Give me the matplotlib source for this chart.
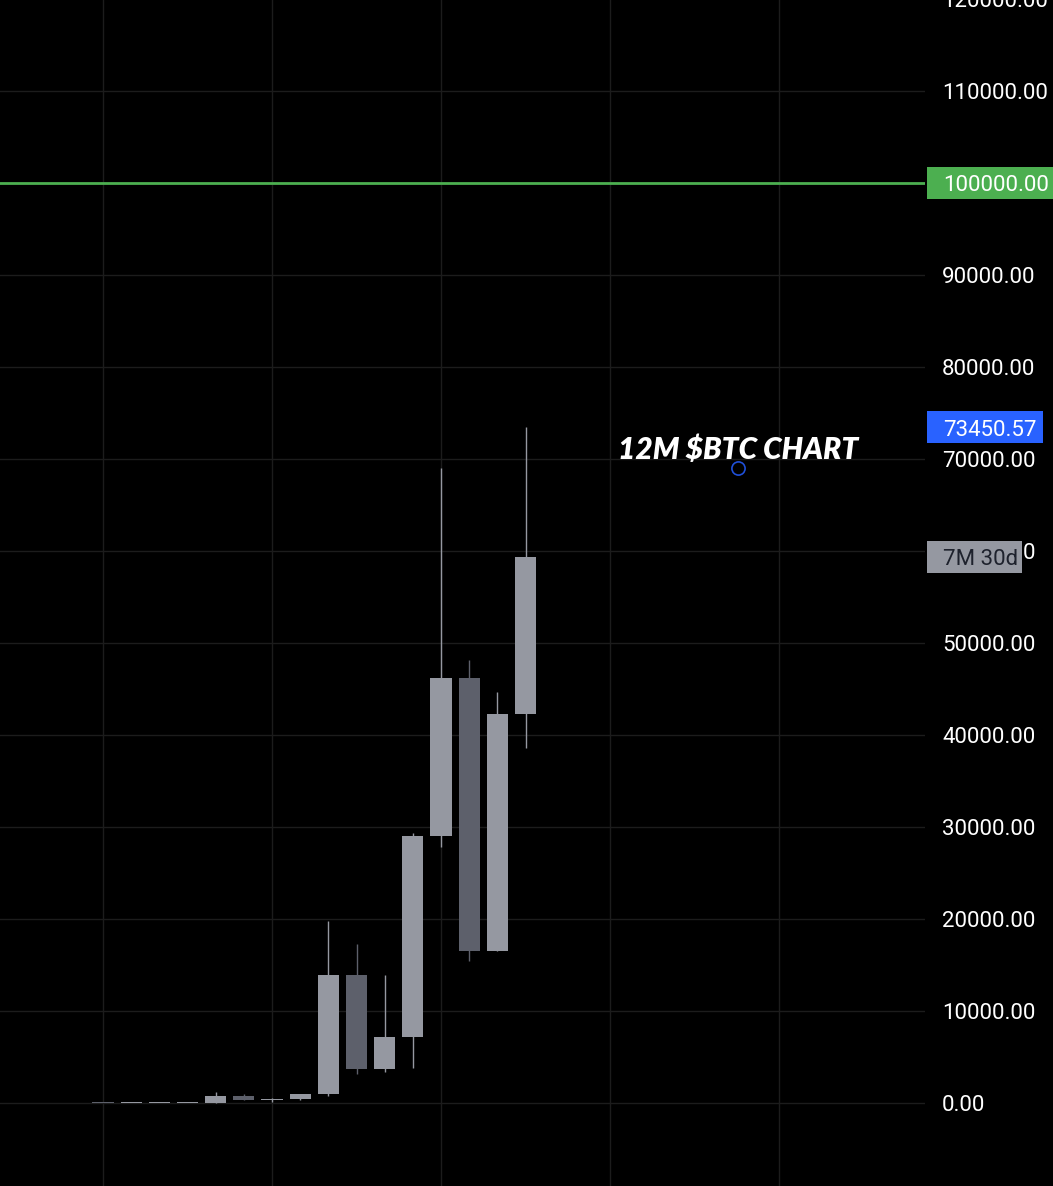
import matplotlib
matplotlib.use("Agg")
import matplotlib.pyplot as plt
from matplotlib.patches import Rectangle
from matplotlib.transforms import blended_transform_factory

# Yearly (12M) BTC candles
years = list(range(2009, 2025))
opens = [0.06, 0.05, 0.30, 4.7, 13.5, 754, 320, 430, 963, 13880, 3742, 7193, 28990, 46200, 16540, 42280]
highs = [0.08, 0.39, 32, 16, 1163, 1000, 495, 980, 19783, 17250, 13880, 29300, 69000, 48190, 44700, 73450.57]
lows = [0.05, 0.01, 0.30, 4.0, 13, 310, 152, 350, 780, 3200, 3350, 3850, 27800, 15480, 16500, 38550]
closes = [0.05, 0.30, 4.7, 13.5, 754, 320, 430, 963, 13880, 3742, 7193, 28990, 46200, 16540, 42280, 59350]

price_ticks = list(range(0, 130000, 10000))
target_level = 100000
last_high = 73450.57
countdown = "7M 30d"
title = "12M $BTC CHART"

bull = "#9598a1"
bear = "#5d606b"
grid_c = "#1c1c1c"

fig = plt.figure(figsize=(10.53, 11.86), dpi=100, facecolor="black")
ax = fig.add_axes([0, 0, 925 / 1053, 1])
ax.set_facecolor("black")

# Scales: x index spacing ~28.17 px, y ~0.0092 px per unit
ax.set_xlim(-3.656, 29.18)
ax.set_ylim(-9022, 119890)

# Grid
for v in price_ticks:
    ax.axhline(v, color=grid_c, lw=1, zorder=0)
for i in range(0, 30, 6):
    ax.axvline(i, color=grid_c, lw=1, zorder=0)

# Candles
min_body = 110
for i, (o, h, l, c) in enumerate(zip(opens, highs, lows, closes)):
    col = bull if c >= o else bear
    ax.vlines(i, l, h, color=col, lw=1, zorder=2)
    bottom = min(o, c)
    height = max(abs(c - o), min_body)
    ax.bar(i, height, bottom=bottom, width=0.75, color=col, zorder=3, linewidth=0)

# Target line
ax.axhline(target_level, color="#4caf50", lw=2.0, zorder=4)

for s in ax.spines.values():
    s.set_visible(False)
ax.set_xticks([])
ax.set_yticks([])

px = 1 / 0.0092  # data units per pixel
text_shift = -3 * px  # nudge labels down to sit on their level

# Right price scale
tr = blended_transform_factory(ax.transAxes, ax.transData)
for v in price_ticks:
    ax.text(942 / 925, v + text_shift, f"{v:.2f}", transform=tr, color="white", fontsize=16,
            family="Roboto", va="center", ha="left", clip_on=False, zorder=5)

box_h = 32 * px
x0 = 927 / 925

def price_box(y, w, fc, label, tc):
    ax.add_patch(Rectangle((x0, y - box_h / 2), w / 925, box_h, transform=tr,
                           facecolor=fc, edgecolor="none", clip_on=False, zorder=6))
    ax.text(943 / 925, y + text_shift, label, transform=tr, color=tc, fontsize=16, family="Roboto",
            va="center", ha="left", clip_on=False, zorder=7)

price_box(target_level, 130, "#4caf50", f"{target_level:.2f}", "white")
price_box(last_high, 116, "#2962ff", f"{last_high:.2f}", "white")
price_box(closes[-1], 95, bull, countdown, "#1e222d")

# Annotation
ax.text(22.54, 71300 + text_shift, title, color="white", fontsize=21.5, family="Lato",
        fontweight="heavy", fontstyle="italic", ha="center", va="center", zorder=8)
ax.plot([22.54], [69020], marker="o", ms=9.5, mfc="none", mec="#1f4fd8", mew=1.2, zorder=8)

fig.savefig("out.png", dpi=100, facecolor="black")
